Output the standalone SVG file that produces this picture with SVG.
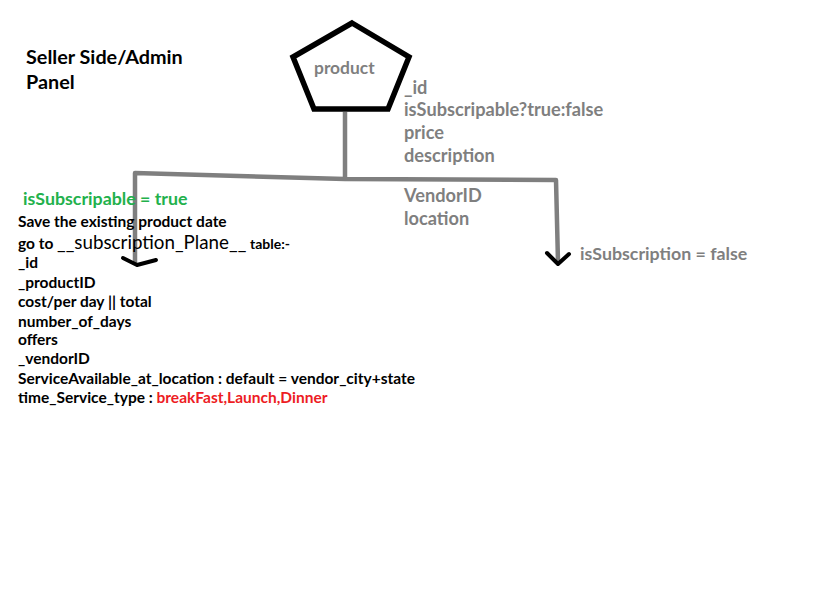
<svg xmlns="http://www.w3.org/2000/svg" width="836" height="592" viewBox="0 0 836 592">
<style>
text{font-family:Lato,"Open Sans","Liberation Sans",sans-serif;font-weight:bold}
.title{font-size:19.8px;fill:#000}
.g{font-size:18.2px;fill:#7f7f7f}
.green{font-size:17.8px;fill:#22b14c}
.b{font-size:15.5px;fill:#000}
.r{fill:#ed1c24}
.gl{stroke:#7f7f7f;stroke-width:4.5;fill:none;stroke-linejoin:round}
.ah{stroke:#000;stroke-width:4;fill:none;stroke-linejoin:round;stroke-linecap:round}
</style>
<rect width="836" height="592" fill="#fff"/>
<g id="title">
<text class="title" x="26" y="64">Seller Side/Admin</text>
<text class="title" x="26" y="89">Panel</text>
</g>
<g id="product">
<polygon points="352,23 409,57 388,109 314,109 293,57" fill="#fff" stroke="#000" stroke-width="5.5" stroke-linejoin="miter"/>
<text class="g" x="314" y="74" style="font-size:17.4px">product</text>
</g>
<g id="product-fields">
<text class="g" x="404" y="94">_id</text>
<text class="g" x="404" y="116">isSubscripable?true:false</text>
<text class="g" x="404" y="139">price</text>
<text class="g" x="404" y="162">description</text>
<text class="g" x="404" y="202">VendorID</text>
<text class="g" x="404" y="225">location</text>
</g>
<g id="connectors">
<path class="gl" d="M345,112 V180"/>
<path class="gl" d="M135,265 V173 L345,179 L556,180 L558,262"/>
<path class="ah" d="M123,258 L137,265 L156,260"/>
<path class="ah" d="M547,253 L558,264 L569,254"/>
</g>
<g id="subscripable-true">
<text class="green" x="23" y="205">isSubscripable = true</text>
<text class="b" x="18" y="227">Save the existing product date</text>
<text class="b" x="18" y="249">go to <tspan style="font-size:18.8px;font-weight:normal">__subscription_Plane__</tspan> <tspan style="font-size:14px">table:-</tspan></text>
<text class="b" x="18" y="268">_id</text>
<text class="b" x="18" y="288">_productID</text>
<text class="b" x="18" y="307">cost/per day || total</text>
<text class="b" x="18" y="327">number_of_days</text>
<text class="b" x="18" y="345">offers</text>
<text class="b" x="18" y="364">_vendorID</text>
<text class="b" x="18" y="384">ServiceAvailable_at_location : default = vendor_city+state</text>
<text class="b" x="18" y="403">time_Service_type : <tspan class="r">breakFast,Launch,Dinner</tspan></text>
</g>
<g id="subscription-false">
<text class="g" x="580" y="260" style="font-size:17.8px">isSubscription = false</text>
</g>
</svg>
